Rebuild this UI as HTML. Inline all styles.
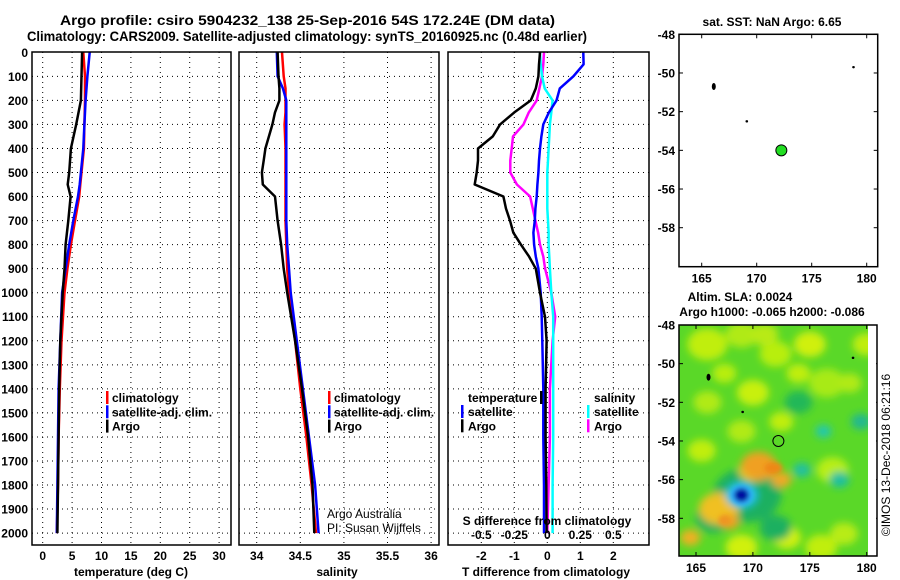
<!DOCTYPE html>
<html><head><meta charset="utf-8"><style>
body{margin:0;background:#fff;}
svg{display:block;font-family:"Liberation Sans",Arial,sans-serif;}
.b{font-weight:bold;font-size:12px;}
.t{font-weight:bold;font-size:14px;}
</style></head><body>
<svg id="s" width="900" height="580" viewBox="0 0 900 580">
<defs>
<clipPath id="c1"><rect x="32" y="52" width="199" height="493"/></clipPath>
<clipPath id="c2"><rect x="239" y="52" width="200" height="493"/></clipPath>
<clipPath id="c3"><rect x="448" y="52" width="201" height="493"/></clipPath>
<clipPath id="cm"><rect x="679" y="325" width="189" height="231"/></clipPath>
<filter id="bl" x="-50%" y="-50%" width="200%" height="200%"><feGaussianBlur stdDeviation="4"/></filter>
<filter id="bl2" x="-50%" y="-50%" width="200%" height="200%"><feGaussianBlur stdDeviation="2.5"/></filter>
</defs>
<text class="t" x="60" y="25" textLength="495" lengthAdjust="spacingAndGlyphs">Argo profile: csiro 5904232_138 25-Sep-2016 54S 172.24E (DM data)</text>
<text class="t" x="27" y="41" textLength="560" lengthAdjust="spacingAndGlyphs">Climatology: CARS2009. Satellite-adjusted climatology: synTS_20160925.nc (0.48d earlier)</text>
<g id="g"></g>
</svg>
<script>
// ---- profile data ----
const tDepth=[0,100,200,300,400,500,550,600,700,800,900,1000,1200,1400,1600,1800,2000];
const argoT=[6.7,6.6,6.5,5.7,4.8,4.5,4.25,4.75,4.35,3.9,3.7,3.4,3.0,2.8,2.7,2.6,2.5];
const climT=[6.9,7.2,7.2,7.1,7.0,6.6,6.4,6.2,5.5,4.8,4.2,3.7,3.2,2.9,2.7,2.6,2.4];
const satT=[8.0,7.6,7.3,7.1,6.9,6.5,6.3,6.0,5.2,4.5,3.9,3.3,3.0,2.7,2.6,2.5,2.4];
const sDepth=[0,100,150,200,250,300,400,450,500,550,600,700,800,900,1000,1200,1400,1600,1800,2000];
const argoS=[34.24,34.25,34.26,34.26,34.21,34.18,34.10,34.08,34.06,34.07,34.21,34.24,34.28,34.31,34.35,34.44,34.52,34.59,34.64,34.66];
const climS=[34.29,34.31,34.33,34.33,34.33,34.32,34.33,34.33,34.33,34.33,34.33,34.33,34.34,34.35,34.37,34.44,34.50,34.57,34.63,34.68];
const satS=[34.23,34.24,34.30,34.34,34.34,34.34,34.34,34.34,34.34,34.34,34.34,34.34,34.35,34.37,34.39,34.46,34.53,34.60,34.67,34.71];
const dDepth=[0,50,100,150,200,250,300,350,400,450,500,550,600,650,700,750,800,850,900,1000,1100,1200,1400,1600,1800,2000];
const argoTd=[-0.22,-0.25,-0.27,-0.35,-0.5,-1.0,-1.43,-1.65,-2.1,-2.1,-2.14,-2.2,-1.33,-1.25,-1.13,-1.03,-0.8,-0.55,-0.35,-0.22,-0.07,-0.02,-0.05,-0.05,-0.03,-0.02];
const satTd=[1.09,1.1,0.79,0.38,0.28,0.05,-0.12,-0.18,-0.22,-0.25,-0.27,-0.3,-0.32,-0.36,-0.38,-0.42,-0.4,-0.35,-0.27,-0.2,-0.17,-0.15,-0.12,-0.12,-0.1,-0.1];
const argoSd=[-0.025,-0.03,-0.04,-0.06,-0.08,-0.14,-0.18,-0.26,-0.27,-0.28,-0.28,-0.23,-0.13,-0.11,-0.09,-0.07,-0.055,-0.03,-0.017,0.03,0.06,0.04,0.02,0.02,0.01,0];
const satSd=[-0.055,-0.05,-0.04,-0.02,0.04,0.03,0.02,0.015,0.01,0.005,0,0,0,0,0.005,0.01,0.01,0.015,0.02,0.03,0.045,0.045,0.045,0.045,0.04,0.04];
const depthTicks=[0,100,200,300,400,500,600,700,800,900,1000,1100,1200,1300,1400,1500,1600,1700,1800,1900,2000];
const tTicks=[0,5,10,15,20,25,30];
const sTicks=[34,34.5,35,35.5,36];
const sTickLabels=["34","34.5","35","35.5","36"];
const dTTicks=[-2,-1,0,1,2];
const dSTicks=[-0.5,-0.25,0,0.25,0.5];
const dSTickLabels=["-0.5","-0.25","0","0.25","0.5"];
// ---- map data ----
const lonTicks=[165,170,175,180];
const latTicks=[-48,-50,-52,-54,-56,-58];
const islandLon=[166.1,169.1,178.8];
const islandLat=[-50.7,-52.5,-49.7];
const argoLon=172.24, argoLat=-54.0;
const blobLon=[166,169,172,176.5,166,170,175,180,169,172.5,177,165.5,169,176,173,178,171,169.5,166.5,174,172,177.6,176.2,174.3,179.5,167,170,164.5,170.5,172.5,168,169,167.5,174,178.5];
const blobLat=[-49,-48.5,-49.5,-51,-52,-51.5,-49,-49,-53.5,-53,-55.5,-54.5,-59.5,-59.5,-59,-58.8,-48.5,-56.8,-58,-52,-58.5,-56,-53.5,-55.5,-53,-57.5,-55.5,-59,-55.3,-56,-58.2,-56.8,-50.5,-50.5,-51];
const blobCol=["#c0ee10","#b0ea18","#b8ee10","#a8ea18","#b0ea18","#c8f010","#d0f010","#c0ee10","#b0ea18","#c0ee10","#b8ee18","#c0ee10","#d0f010","#c0ee10","#d0f010","#b8ec18","#b8ea18","#1eb060","#1eb060","#22b858","#1eb060","#1ec0a0","#20c8b0","#20c0a0","#20b890","#f0c020","#e8e020","#f0b020","#f0a020","#f0a828","#f0a020","#20c0e0","#b8ee10","#c0ee10","#b0ea18"];
const blobR=[20,16,16,18,14,16,16,14,14,12,16,14,16,16,14,14,14,34,18,14,16,10,8,9,10,20,14,10,18,10,9,16,12,12,12];

const NS="http://www.w3.org/2000/svg";
const G=document.getElementById('g');
function el(tag,attrs,parent,txt){const e=document.createElementNS(NS,tag);for(const k in attrs)e.setAttribute(k,attrs[k]);if(txt!==undefined)e.textContent=txt;(parent||G).appendChild(e);return e;}
const yD=d=>52.3+0.2404*d;

function panel(name,x0,x1,xs,xticks,xlabels,clip){
  const g=el('g',{});
  
  
  const gr=el('g',{'clip-path':'url(#'+clip+')'},g);
  xticks.forEach(v=>{const l=el('line',{x1:xs(v),x2:xs(v),y1:52,y2:545,stroke:'#000','stroke-width':1,'stroke-dasharray':'1,4'},gr);
    
    });
  depthTicks.forEach(d=>{if(d===0)return;const l=el('line',{x1:x0,x2:x1,y1:yD(d),y2:yD(d),stroke:'#000','stroke-width':1,'stroke-dasharray':'1,4'},gr);
    
    });
  return {g,gr};
}
function series(parent,name,depths,vals,xs,color,w){
  let pts=[];for(let i=0;i<depths.length;i++){pts.push(xs(vals[i]).toFixed(1)+','+yD(depths[i]).toFixed(1));}
  const p=el('polyline',{points:pts.join(' '),fill:'none',stroke:color,'stroke-width':w||2.5,'stroke-linejoin':'round'},parent);
  
  
}
function frame(parent,x0,x1){el('rect',{x:x0,y:52,width:x1-x0,height:493,fill:'none',stroke:'#000','stroke-width':1.5},parent);}
function xlabelsDraw(parent,xs,ticks,labels,y,name){ticks.forEach((v,i)=>{const t=el('text',{x:xs(v),y:y,'text-anchor':'middle',class:'b'},parent,labels[i]);
  
  });}

// panel 1
const xT=v=>42.7+5.88*v;
const p1=panel('temperature-panel',32,231,xT,tTicks,null,'c1');
series(p1.gr,'climatology-temperature-line',tDepth,climT,xT,'#ff0000');
series(p1.gr,'satellite-temperature-line',tDepth,satT,xT,'#0000ff');
series(p1.gr,'argo-temperature-line',tDepth,argoT,xT,'#000000');
frame(p1.g,32,231);
xlabelsDraw(p1.g,xT,tTicks,tTicks.map(String),560,'temperature-tick-label');
depthTicks.forEach(d=>{const t=el('text',{x:28,y:yD(d)+4.5,'text-anchor':'end',class:'b'},p1.g,String(d));
  
  });
el('text',{x:131,y:576,'text-anchor':'middle',class:'b'},p1.g,'temperature (deg C)');

// panel 2
const xS=v=>256.7+87.2*(v-34);
const p2=panel('salinity-panel',239,439,xS,sTicks,null,'c2');
series(p2.gr,'climatology-salinity-line',sDepth,climS,xS,'#ff0000');
series(p2.gr,'satellite-salinity-line',sDepth,satS,xS,'#0000ff');
series(p2.gr,'argo-salinity-line',sDepth,argoS,xS,'#000000');
frame(p2.g,239,439);
xlabelsDraw(p2.g,xS,sTicks,sTickLabels,560,'salinity-tick-label');
el('text',{x:337,y:576,'text-anchor':'middle',class:'b'},p2.g,'salinity');
el('text',{x:327,y:518,'font-size':'12'},p2.g,'Argo Australia');
el('text',{x:327,y:532,'font-size':'12'},p2.g,'PI: Susan Wijffels');

// legends for panel 1 & 2
function legend(parent,x,rows){rows.forEach((r,i)=>{const y=397+i*14.3;
  el('rect',{x:x,y:y-6,width:2.5,height:13,fill:r[1]},parent);
  const t=el('text',{x:x+6,y:y+5,class:'b'},parent,r[0]);
  
  });}
legend(p1.g,106,[['climatology','#ff0000'],['satellite-adj. clim.','#0000ff'],['Argo','#000']]);
legend(p2.g,328,[['climatology','#ff0000'],['satellite-adj. clim.','#0000ff'],['Argo','#000']]);

// panel 3
const xdT=v=>547.3+33*v;
const xdS=v=>547.3+132*v;
const p3=panel('difference-panel',448,649,xdT,dTTicks,null,'c3');
series(p3.gr,'argo-salinity-diff-line',dDepth,argoSd,xdS,'#ff00ff');
series(p3.gr,'satellite-salinity-diff-line',dDepth,satSd,xdS,'#00ffff');
series(p3.gr,'satellite-temperature-diff-line',dDepth,satTd,xdT,'#0000ff');
series(p3.gr,'argo-temperature-diff-line',dDepth,argoTd,xdT,'#000000');
frame(p3.g,448,649);
xlabelsDraw(p3.g,xdT,dTTicks,dTTicks.map(String),560,'t-diff-tick-label');
xlabelsDraw(p3.g,xdS,dSTicks,dSTickLabels,539,'s-diff-tick-label');
el('text',{x:547,y:525,'text-anchor':'middle',class:'b'},p3.g,'S difference from climatology');
el('text',{x:546,y:576,'text-anchor':'middle',class:'b'},p3.g,'T difference from climatology');
el('text',{x:468,y:402,class:'b'},p3.g,'temperature');
el('rect',{x:540,y:391,width:2.5,height:13,fill:'#000'},p3.g);
el('text',{x:594,y:402,class:'b'},p3.g,'salinity');
[['satellite','#0000ff',461],['Argo','#000',461]].forEach((r,i)=>{const y=411+i*14.3;el('rect',{x:r[2],y:y-6,width:2.5,height:13,fill:r[1]},p3.g);
  const t=el('text',{x:r[2]+7,y:y+5,class:'b'},p3.g,r[0]);});
[['satellite','#00ffff'],['Argo','#ff00ff']].forEach((r,i)=>{const y=411+i*14.3;el('rect',{x:587,y:y-6,width:2.5,height:13,fill:r[1]},p3.g);
  const t=el('text',{x:594,y:y+5,class:'b'},p3.g,r[0]);});

// maps
function mapAxes(parent,top,bottom,lon165,pxLon,lat48,pxLat,right){
  const lx=v=>lon165+(v-165)*pxLon, ly=v=>lat48+(-48-v)*pxLat;
  el('rect',{x:679,y:top,width:right-679,height:bottom-top,fill:'none',stroke:'#000','stroke-width':1.5},parent);
  lonTicks.forEach(v=>{el('line',{x1:lx(v),x2:lx(v),y1:top,y2:top+4,stroke:'#000'},parent);el('line',{x1:lx(v),x2:lx(v),y1:bottom,y2:bottom-4,stroke:'#000'},parent);
    const t=el('text',{x:lx(v),y:bottom+16,'text-anchor':'middle',class:'b'},parent,String(v));
    });
  latTicks.forEach(v=>{el('line',{x1:679,x2:683,y1:ly(v),y2:ly(v),stroke:'#000'},parent);el('line',{x1:right,x2:right-4,y1:ly(v),y2:ly(v),stroke:'#000'},parent);
    const t=el('text',{x:675,y:ly(v)+4.5,'text-anchor':'end',class:'b'},parent,String(v));
    });
  return {lx,ly};
}
// top map
const m1=el('g',{});


el('text',{x:772,y:26,'text-anchor':'middle',class:'b'},m1,'sat. SST: NaN Argo: 6.65');
const a1=mapAxes(m1,34.3,266.7,701.7,11,34.3,19.34,877.7);
islandLon.forEach((v,i)=>{el('ellipse',{cx:a1.lx(v),cy:a1.ly(islandLat[i]),rx:i===0?2:1.3,ry:i===0?3.5:1.2,fill:'#000'},m1);});
const c1=el('circle',{cx:a1.lx(argoLon),cy:a1.ly(argoLat),r:5.5,fill:'#22dd22',stroke:'#000','stroke-width':1},m1);



// bottom map
const m2=el('g',{});


el('text',{x:740,y:301,'text-anchor':'middle',class:'b'},m2,'Altim. SLA: 0.0024');
el('text',{x:772,y:316,'text-anchor':'middle',class:'b'},m2,'Argo h1000: -0.065 h2000: -0.086');
const hm=el('g',{'clip-path':'url(#cm)'},m2);


el('rect',{x:679,y:325,width:189,height:231,fill:'#5ad828'},hm);
const lx2=v=>696+(v-165)*11.38, ly2=v=>325+(-48-v)*19.33;
const bg=el('g',{filter:'url(#bl)'},hm);
blobLon.forEach((v,i)=>{const r=blobR[i];const e=el('ellipse',{cx:lx2(v),cy:ly2(blobLat[i]),rx:r,ry:r*0.8,fill:blobCol[i]},bg);
  });
const bg2=el('g',{filter:'url(#bl2)'},hm);
el('ellipse',{cx:lx2(169),cy:ly2(-56.8),rx:11,ry:10,fill:'#30b0ff'},bg2);
el('ellipse',{cx:lx2(169),cy:ly2(-56.8),rx:7.5,ry:7,fill:'#0010a0'},bg2);
el('ellipse',{cx:lx2(171.8),cy:ly2(-55.4),rx:9,ry:6,fill:'#ee8818'},bg2);
el('ellipse',{cx:lx2(167.5),cy:ly2(-58.1),rx:6,ry:5,fill:'#ee9420'},bg2);
const mapB=mapAxes(m2,325,556,696,11.38,325,19.33,877);
el('rect',{x:868.5,y:326,width:7.5,height:229,fill:'#fff'},m2);
islandLon.forEach((v,i)=>{el('ellipse',{cx:lx2(v),cy:ly2(islandLat[i]),rx:i===0?2:1.3,ry:i===0?3.5:1.2,fill:'#000'},m2);});
const c2=el('circle',{cx:lx2(argoLon),cy:ly2(argoLat),r:5.5,fill:'none',stroke:'#000','stroke-width':1},m2);


const cr=el('text',{x:0,y:0,'font-size':'12',transform:'translate(890,455) rotate(-90)','text-anchor':'middle'},G,'©IMOS 13-Dec-2018 06:21:16');


</script>
</body></html>
